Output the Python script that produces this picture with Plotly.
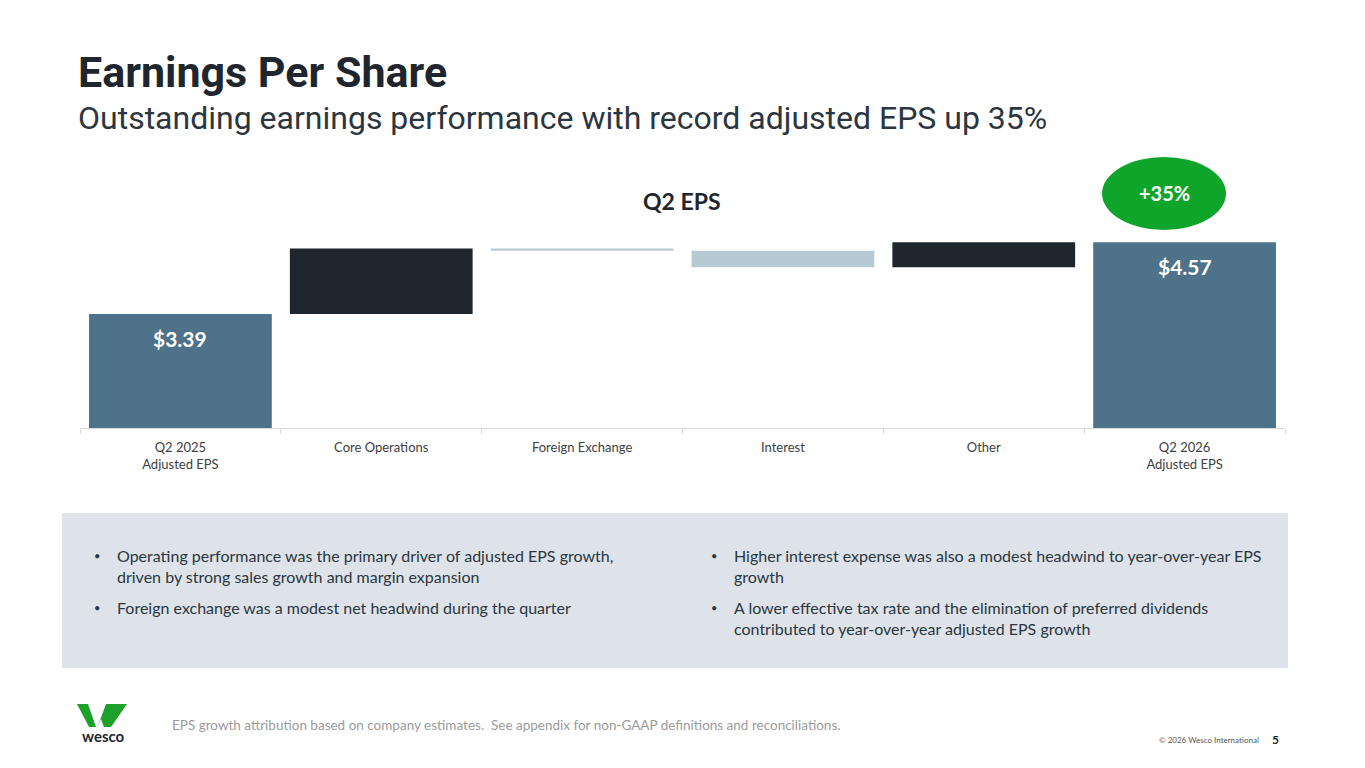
import plotly.graph_objects as go

# EPS bridge data
categories = [
    "Q2 2025<br>Adjusted EPS",
    "Core Operations",
    "Foreign Exchange",
    "Interest",
    "Other",
    "Q2 2026<br>Adjusted EPS",
]
eps_values = [3.39, 1.08, -0.04, -0.27, 0.41, 4.57]
measures = ["absolute", "relative", "relative", "relative", "relative", "total"]
value_labels = ["$3.39", "", "", "", "", "$4.57"]
growth_label = "+35%"

title = "Earnings Per Share"
subtitle = "Outstanding earnings performance with record adjusted EPS up 35%"
chart_title = "Q2 EPS"
bullets_left = [
    "Operating performance was the primary driver of adjusted EPS growth,<br>driven by strong sales growth and margin expansion",
    "Foreign exchange was a modest net headwind during the quarter",
]
bullets_right = [
    "Higher interest expense was also a modest headwind to year-over-year EPS<br>growth",
    "A lower effective tax rate and the elimination of preferred dividends<br>contributed to year-over-year adjusted EPS growth",
]
footnote = "EPS growth attribution based on company estimates.  See appendix for non-GAAP definitions and reconciliations."
copyright_text = "© 2026 Wesco International"
page_no = "5"

DARK = "#1F262D"
STEEL = "#4E7289"
LIGHT = "#B7C9D3"
GREEN = "#0FA52B"
HEAD_FONT = "Roboto, sans-serif"
BODY_FONT = "Lato, Noto Sans, sans-serif"

# page has an 8px body margin, so the figure is laid out in slide pixels minus 8
OFF = 8
W, H = 1349, 752


def px(x):
    return (x - OFF) / W


def py(y):
    return 1 - (y - OFF) / H


fig = go.Figure()

fig.add_trace(
    go.Waterfall(
        x=categories,
        y=eps_values,
        measure=measures,
        width=0.91,
        increasing=dict(marker=dict(color=DARK)),
        decreasing=dict(marker=dict(color=LIGHT)),
        totals=dict(marker=dict(color=STEEL)),
        connector=dict(visible=False),
        hoverinfo="skip",
        showlegend=False,
    )
)

# value labels inside the total bars
running = 0
for cat, val, m, lab in zip(categories, eps_values, measures, value_labels):
    if m == "absolute":
        running = val
    elif m == "relative":
        running += val
    if lab:
        fig.add_annotation(
            x=cat, y=running, xref="x", yref="y", text=f"<b>{lab}</b>",
            showarrow=False, yshift=-24,
            font=dict(family=BODY_FONT, size=21, color="white"),
        )

shapes = [
    # bullet box
    dict(type="rect", xref="paper", yref="paper",
         x0=px(62), x1=px(1288), y0=py(668), y1=py(513),
         fillcolor="#DDE3E9", line=dict(width=0), layer="below"),
    # growth bubble
    dict(type="circle", xref="paper", yref="paper",
         x0=px(1102), x1=px(1226), y0=py(230), y1=py(157),
         fillcolor=GREEN, line=dict(width=0)),
]

# wesco logo mark (W)
logo_polys = [
    [(77, 704), (88, 704), (96, 727), (89, 727)],
    [(106, 704), (127, 704), (111, 727), (104, 727), (101, 719), (97.5, 727)],
]
for poly in logo_polys:
    path = "M " + " L ".join(f"{px(x)},{py(y)}" for x, y in poly) + " Z"
    shapes.append(dict(type="path", xref="paper", yref="paper", path=path,
                       fillcolor="#1DA12A", line=dict(width=0)))

annotations = [
    dict(x=px(76), y=py(72), text=f"<b>{title}</b>", xanchor="left", yanchor="middle",
         font=dict(family=HEAD_FONT, size=43, color=DARK)),
    dict(x=px(76), y=py(118), text=subtitle, xanchor="left", yanchor="middle",
         font=dict(family=HEAD_FONT, size=32, color="#2B3640")),
    dict(x=px(682), y=py(201), text=f"<b>{chart_title}</b>", xanchor="center", yanchor="middle",
         font=dict(family=BODY_FONT, size=23, color=DARK)),
    dict(x=px(1164), y=py(193), text=f"<b>{growth_label}</b>", xanchor="center", yanchor="middle",
         font=dict(family=BODY_FONT, size=20, color="white")),
    dict(x=px(170), y=py(725), text=footnote, xanchor="left", yanchor="middle",
         font=dict(family=BODY_FONT, size=13.5, color="#9B9B9B")),
    dict(x=px(1261), y=py(740), text=copyright_text, xanchor="right", yanchor="middle",
         font=dict(family=BODY_FONT, size=8, color="#555555")),
    dict(x=px(1275), y=py(739), text=f"<b>{page_no}</b>", xanchor="center", yanchor="middle",
         font=dict(family=BODY_FONT, size=12, color=DARK)),
    dict(x=px(103), y=py(736), text="<b>wesco</b>", xanchor="center", yanchor="middle",
         font=dict(family=BODY_FONT, size=15, color=DARK)),
]

bullet_font = dict(family=BODY_FONT, size=16, color="#2B3640")
for col_x, items in ((92, bullets_left), (709, bullets_right)):
    y_top = 544
    for item in items:
        n_lines = item.count("<br>") + 1
        annotations.append(dict(x=px(col_x), y=py(y_top + 11), text="•", xanchor="left",
                                yanchor="middle",
                                font=dict(family=BODY_FONT, size=11, color="#2B3640")))
        annotations.append(dict(x=px(col_x + 23), y=py(y_top), text=item, xanchor="left",
                                yanchor="top", align="left", font=bullet_font))
        y_top += 23 * n_lines + 6

for a in annotations:
    a.setdefault("xref", "paper")
    a.setdefault("yref", "paper")
    a.setdefault("showarrow", False)
    fig.add_annotation(**a)

fig.update_layout(
    width=W,
    height=H,
    margin=dict(l=0, r=0, t=0, b=0),
    paper_bgcolor="white",
    plot_bgcolor="white",
    shapes=shapes,
    xaxis=dict(
        domain=[px(80), px(1285)],
        showline=True, linecolor="#D9D9D9", linewidth=1,
        ticks="outside", tickson="boundaries", ticklen=5, tickcolor="#D9D9D9",
        ticklabelstandoff=7,
        showgrid=False,
        tickfont=dict(family=BODY_FONT, size=13, color="#404040"),
    ),
    yaxis=dict(
        domain=[py(428), py(160)],
        range=[1.514, 5.925],
        visible=False,
    ),
)

fig.write_html("out.html")
